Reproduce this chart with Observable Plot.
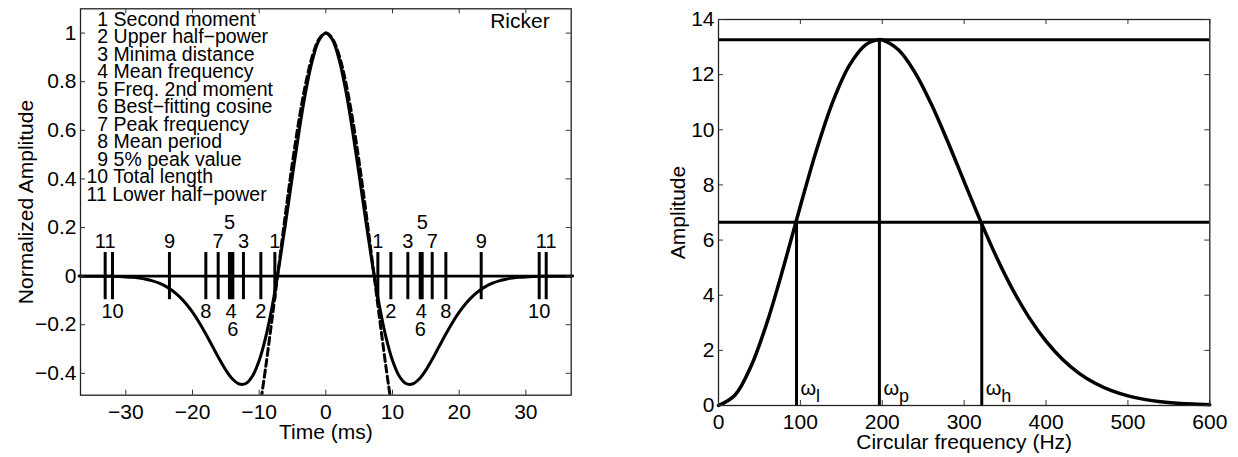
<!DOCTYPE html>
<html><head><meta charset="utf-8">
<script src="https://cdn.jsdelivr.net/npm/d3@7"></script>
<script src="https://cdn.jsdelivr.net/npm/@observablehq/plot@0.6"></script>
<style>
body{margin:0;background:#fff;}
#wrap{display:flex;width:1238px;height:457px;overflow:hidden;}
svg{font-family:"Liberation Sans",Arial,Helvetica,sans-serif;}
</style></head><body><div id="wrap"></div>
<script>
// ---------- Left panel data (Ricker wavelet, time domain) ----------
const timeMs = [-37,-36,-35,-34,-33,-32,-31,-30,-29,-28,-27,-26,-25,-24,-23,-22,-21,-20,-19,-18,-17,-16,-15,-14,-13,-12,-11,-10,-9,-8,-7,-6,-5,-4,-3,-2,-1,0,1,2,3,4,5,6,7,8,9,10,11,12,13,14,15,16,17,18,19,20,21,22,23,24,25,26,27,28,29,30,31,32,33,34,35,36,37];
const rickerAmp = [0,-0.0001,-0.0002,-0.0004,-0.0006,-0.0011,-0.0019,-0.0032,-0.0051,-0.0082,-0.0127,-0.0194,-0.0289,-0.0421,-0.0599,-0.0830,-0.1123,-0.1482,-0.1905,-0.2382,-0.2891,-0.3402,-0.3868,-0.4235,-0.4440,-0.4419,-0.4111,-0.3474,-0.2489,-0.1167,0.0443,0.2254,0.4148,0.5984,0.7614,0.8897,0.9718,1,0.9718,0.8897,0.7614,0.5984,0.4148,0.2254,0.0443,-0.1167,-0.2489,-0.3474,-0.4111,-0.4419,-0.4440,-0.4235,-0.3868,-0.3402,-0.2891,-0.2382,-0.1905,-0.1482,-0.1123,-0.0830,-0.0599,-0.0421,-0.0289,-0.0194,-0.0127,-0.0082,-0.0051,-0.0032,-0.0019,-0.0011,-0.0006,-0.0004,-0.0002,-0.0001,0];
const cosineTimeMs = [-9.7,-9,-8,-7,-6,-5,-4,-3,-2,-1,0,1,2,3,4,5,6,7,8,9,9.7];
const cosineAmp = [-0.5055,-0.3703,-0.1618,0.0541,0.2675,0.4684,0.6474,0.7961,0.9076,0.9766,1,0.9766,0.9076,0.7961,0.6474,0.4684,0.2675,0.0541,-0.1618,-0.3703,-0.5055];
const markerIds = [1,2,3,4,5,6,7,8,9,10,11];
const markerTimeLeft = [-7.65,-9.75,-12.36,-14.2,-14.46,-13.95,-16.15,-18.0,-23.46,-32.0,-33.1];
const markerTimeRight = [7.8,9.75,12.3,14.3,14.45,14.15,15.95,18.0,23.3,32.0,33.05];
const legendLabels = ["Second moment","Upper half\u2212power","Minima distance","Mean frequency","Freq. 2nd moment","Best\u2212fitting cosine","Peak frequency","Mean period","5% peak value","Total length","Lower half\u2212power"];
const leftXTicks = [-30,-20,-10,0,10,20,30];
const leftYTicks = [-0.4,-0.2,0,0.2,0.4,0.6,0.8,1];

// ---------- Right panel data (amplitude spectrum) ----------
const freqHz = [0,20,40,60,80,100,120,140,160,180,196,200,220,240,260,280,300,320,340,360,380,400,420,440,460,480,500,520,540,560,580,600];
const spectrumAmp = [0,0.372,1.441,3.078,5.087,7.238,9.294,11.050,12.345,13.090,13.27,13.259,12.892,12.076,10.925,9.565,8.118,6.688,5.354,4.169,3.161,2.334,1.678,1.177,0.805,0.537,0.350,0.223,0.138,0.084,0.050,0.029];
const levelAmps = [13.27, 6.65];
const markFreqs = [95.3, 196.5, 321.5];
const markAmps = [6.65, 13.27, 6.65];
const markSubs = ["l","p","h"];
const rightXTicks = [0,100,200,300,400,500,600];
const rightYTicks = [0,2,4,6,8,10,12,14];

// ---------- build rows ----------
const ricker = timeMs.map((t,i)=>({t, v: rickerAmp[i]}));
const cosine = cosineTimeMs.map((t,i)=>({t, v: cosineAmp[i]}));
const markers = [
  ...markerIds.map((id,i)=>({id, t: markerTimeLeft[i]})),
  ...markerIds.map((id,i)=>({id, t: markerTimeRight[i]}))
];
const spectrum = freqHz.map((f,i)=>({f, a: spectrumAmp[i]}));
const fmarks = markFreqs.map((f,i)=>({f, a: markAmps[i], s: markSubs[i]}));
const legendText = markerIds.map((n,i)=>(n < 10 ? "\u2007" : "") + n + " " + legendLabels[i]).join("\n");

const FONT = "'Liberation Sans', Arial, Helvetica, sans-serif";
const H = 457;
const fmtY = d3.format("~g");

// ---------- left plot ----------
const W1 = 620, mL1 = 80, mR1 = 49.3, mT1 = 8.3, mB1 = 62.3;
const ph1 = H - mT1 - mB1, pw1 = W1 - mL1 - mR1;
const tickStyle = {stroke: "#333", strokeWidth: 1};
const left = Plot.plot({
  width: W1, height: H,
  marginLeft: mL1, marginRight: mR1, marginTop: mT1, marginBottom: mB1,
  x: {domain: [-36.8, 36.8]},
  y: {domain: [-0.49, 1.1]},
  style: {fontFamily: FONT, fontSize: "21px", color: "black", background: "white", overflow: "visible"},
  marks: [
    Plot.ruleY([0], {stroke: "black", strokeWidth: 2.6}),
    Plot.ruleX(markers, {x: "t", y1: -0.097, y2: 0.097, stroke: "black", strokeWidth: 3}),
    Plot.line(cosine, {x: "t", y: "v", stroke: "black", strokeWidth: 3, strokeDasharray: "7,4", curve: "catmull-rom", clip: true}),
    Plot.line(ricker, {x: "t", y: "v", stroke: "black", strokeWidth: 3, curve: "catmull-rom", strokeLinejoin: "round"}),
    Plot.text(markers, {filter: d => d.id % 2 === 1 && d.id !== 5, x: "t", y: 0, text: d => String(d.id), dy: -34.5, fontSize: 20, fontFamily: FONT}),
    Plot.text(markers, {filter: d => d.id === 5, x: "t", y: 0, text: d => String(d.id), dy: -54, fontSize: 20, fontFamily: FONT}),
    Plot.text(markers, {filter: d => d.id % 2 === 0 && d.id !== 6, x: "t", y: 0, text: d => String(d.id), dy: 35, fontSize: 20, fontFamily: FONT}),
    Plot.text(markers, {filter: d => d.id === 6, x: "t", y: 0, text: d => String(d.id), dy: 53, fontSize: 20, fontFamily: FONT}),
    Plot.frame({stroke: "#222", strokeWidth: 1.3}),
    Plot.ruleX(leftXTicks, {insetTop: ph1 - 5, ...tickStyle}),
    Plot.ruleX(leftXTicks, {insetBottom: ph1 - 5, ...tickStyle}),
    Plot.ruleY(leftYTicks, {insetRight: pw1 - 5, ...tickStyle}),
    Plot.ruleY(leftYTicks, {insetLeft: pw1 - 5, ...tickStyle}),
    Plot.axisX(leftXTicks, {tickSize: 0, tickPadding: 9, label: null, fontSize: 21, fontFamily: FONT}),
    Plot.axisY(leftYTicks, {tickSize: 0, tickPadding: 4, label: null, tickFormat: fmtY, fontSize: 21, fontFamily: FONT}),
    Plot.text([legendText], {frameAnchor: "top-left", textAnchor: "start", lineAnchor: "top", dx: 6, dy: 4.6, lineHeight: 0.8974, fontSize: 19.5, fontFamily: FONT}),
    Plot.text(["Ricker"], {frameAnchor: "top-right", textAnchor: "end", lineAnchor: "top", dx: -21.5, dy: 4.5, fontSize: 21, fontFamily: FONT}),
    Plot.text(["Time (ms)"], {frameAnchor: "bottom", textAnchor: "middle", lineAnchor: "middle", dy: 36.6, fontSize: 21, fontFamily: FONT}),
    Plot.text(["Normalized Amplitude"], {frameAnchor: "left", textAnchor: "middle", rotate: -90, lineAnchor: "middle", dx: -54, fontSize: 21, fontFamily: FONT})
  ]
});

// ---------- right plot ----------
const W2 = 618, mL2 = 98, mR2 = 28.7, mT2 = 19, mB2 = 52;
const ph2 = H - mT2 - mB2, pw2 = W2 - mL2 - mR2;
const right = Plot.plot({
  width: W2, height: H,
  marginLeft: mL2, marginRight: mR2, marginTop: mT2, marginBottom: mB2,
  x: {domain: [0, 600]},
  y: {domain: [0, 14]},
  style: {fontFamily: FONT, fontSize: "21px", color: "black", background: "white", overflow: "visible"},
  marks: [
    Plot.ruleY(levelAmps, {stroke: "black", strokeWidth: 3}),
    Plot.ruleX(fmarks, {x: "f", y1: 0, y2: "a", stroke: "black", strokeWidth: 3}),
    Plot.line(spectrum, {x: "f", y: "a", stroke: "black", strokeWidth: 3.5, curve: "catmull-rom", strokeLinejoin: "round"}),
    Plot.frame({stroke: "#222", strokeWidth: 1.3}),
    Plot.ruleX(rightXTicks, {insetTop: ph2 - 5, ...tickStyle}),
    Plot.ruleX(rightXTicks, {insetBottom: ph2 - 5, ...tickStyle}),
    Plot.ruleY(rightYTicks, {insetRight: pw2 - 5, ...tickStyle}),
    Plot.ruleY(rightYTicks, {insetLeft: pw2 - 5, ...tickStyle}),
    Plot.axisX(rightXTicks, {tickSize: 0, tickPadding: 9, label: null, fontSize: 21, fontFamily: FONT}),
    Plot.axisY(rightYTicks, {tickSize: 0, tickPadding: 4, label: null, fontSize: 21, fontFamily: FONT}),
    Plot.text(fmarks, {x: "f", y: 0, text: () => "\u03C9", textAnchor: "start", lineAnchor: "middle", dx: 4, dy: -17.4, fontSize: 20, fontFamily: FONT}),
    Plot.text(fmarks, {x: "f", y: 0, text: "s", textAnchor: "start", lineAnchor: "middle", dx: 19.5, dy: -9.3, fontSize: 18, fontFamily: FONT}),
    Plot.text(["Circular frequency (Hz)"], {frameAnchor: "bottom", textAnchor: "middle", lineAnchor: "middle", dy: 37, fontSize: 21, fontFamily: FONT}),
    Plot.text(["Amplitude"], {frameAnchor: "left", textAnchor: "middle", rotate: -90, lineAnchor: "middle", dx: -40, fontSize: 21, fontFamily: FONT})
  ]
});

const wrap = document.getElementById("wrap");
wrap.appendChild(left);
wrap.appendChild(right);
</script>
</body></html>
